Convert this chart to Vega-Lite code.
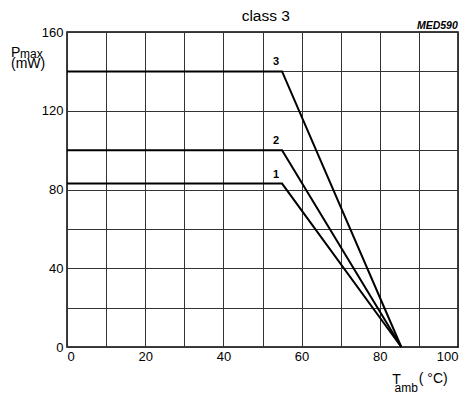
{
  "$schema": "https://vega.github.io/schema/vega-lite/v6.json",
  "width": 391,
  "height": 315,
  "autosize": {"type": "none"},
  "padding": {"left": 67, "top": 32, "right": 7, "bottom": 47},
  "background": "white",
  "config": {
    "font": "Liberation Sans",
    "view": {"stroke": "black", "strokeWidth": 1.5},
    "axis": {
      "labelFont": "Liberation Sans",
      "labelFontSize": 13,
      "labelColor": "black",
      "titleFont": "Liberation Sans",
      "titleColor": "black",
      "titleFontWeight": "normal",
      "titleAngle": 0,
      "titleAlign": "left",
      "titleBaseline": "alphabetic",
      "ticks": false,
      "domain": false,
      "gridColor": "#333333",
      "gridWidth": 1,
      "gridOpacity": 1,
      "labelOverlap": false
    }
  },
  "data": {
    "values": [
      {"series": "1", "x": 0, "y": 83},
      {"series": "1", "x": 55, "y": 83},
      {"series": "1", "x": 85.5, "y": 0},
      {"series": "2", "x": 0, "y": 100},
      {"series": "2", "x": 55, "y": 100},
      {"series": "2", "x": 85.5, "y": 0},
      {"series": "3", "x": 0, "y": 140},
      {"series": "3", "x": 55, "y": 140},
      {"series": "3", "x": 85.5, "y": 0}
    ]
  },
  "resolve": {"axis": {"x": "independent", "y": "independent"}},
  "layer": [
    {
      "mark": {"type": "line", "color": "black", "strokeWidth": 2},
      "encoding": {
        "x": {
          "field": "x", "type": "quantitative",
          "scale": {"domain": [0, 100], "nice": false},
          "axis": {
            "orient": "bottom",
            "values": [0, 10, 20, 30, 40, 50, 60, 70, 80, 90, 100],
            "labelExpr": "datum.value % 20 === 0 ? datum.label : ''",
            "labelFlush": true,
            "labelPadding": 3,
            "grid": true,
            "title": "T",
            "titleX": 324.7,
            "titleY": 36,
            "titleFontSize": 14
          }
        },
        "y": {
          "field": "y", "type": "quantitative",
          "scale": {"domain": [0, 160], "nice": false},
          "axis": {
            "orient": "left",
            "values": [0, 20, 40, 60, 80, 100, 120, 140, 160],
            "labelExpr": "datum.value % 40 === 0 ? datum.label : ''",
            "labelFlush": false,
            "labelPadding": 4,
            "grid": true,
            "title": ["P", "(mW)"],
            "titleX": -56.5,
            "titleY": 24,
            "titleFontSize": 14,
            "titleLineHeight": 11
          }
        },
        "detail": {"field": "series"}
      }
    },
    {
      "transform": [{"filter": "datum.x == 55"}],
      "mark": {"type": "text", "fontSize": 11, "fontWeight": "bold", "dx": -6, "dy": -6, "baseline": "alphabetic", "align": "center", "color": "black"},
      "encoding": {
        "x": {
          "field": "x", "type": "quantitative",
          "axis": {"orient": "bottom", "labels": false, "grid": false, "title": "amb", "titleX": 327, "titleY": 44.3, "titleFontSize": 12}
        },
        "y": {
          "field": "y", "type": "quantitative",
          "axis": {"orient": "left", "labels": false, "grid": false, "title": "max", "titleX": -47.5, "titleY": 25.7, "titleFontSize": 12}
        },
        "text": {"field": "series"}
      }
    },
    {
      "mark": {"type": "point", "opacity": 0},
      "encoding": {
        "x": {
          "field": "x", "type": "quantitative",
          "axis": {"orient": "bottom", "labels": false, "grid": false, "title": "( °C)", "titleX": 351.3, "titleY": 35, "titleFontSize": 14}
        },
        "y": {"field": "y", "type": "quantitative", "axis": null}
      }
    },
    {
      "mark": {"type": "point", "opacity": 0},
      "encoding": {
        "x": {
          "field": "x", "type": "quantitative",
          "axis": {"orient": "top", "labels": false, "grid": false, "title": "class 3", "titleX": 198.3, "titleY": -11.5, "titleAlign": "center", "titleFontSize": 15.5}
        }
      }
    },
    {
      "mark": {"type": "point", "opacity": 0},
      "encoding": {
        "x": {
          "field": "x", "type": "quantitative",
          "axis": {"orient": "top", "labels": false, "grid": false, "title": "MED590", "titleX": 390.3, "titleY": -4, "titleAlign": "right", "titleFontSize": 10.5, "titleFontWeight": "bold", "titleFontStyle": "italic"}
        }
      }
    }
  ]
}
